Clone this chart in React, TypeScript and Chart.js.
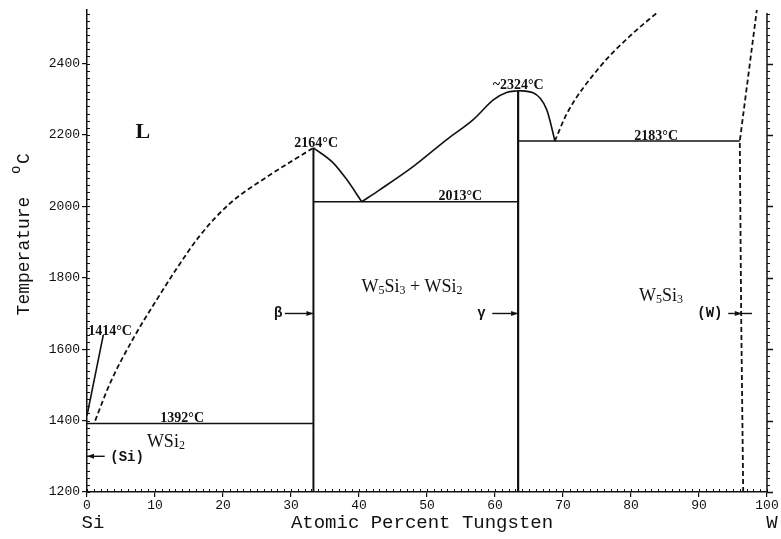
import React, { useEffect, useRef } from 'react';
import { Chart, registerables } from 'chart.js';
Chart.register(...registerables);

// ---- axes ----
const xTickValues = [0, 10, 20, 30, 40, 50, 60, 70, 80, 90, 100];
const yTickValues = [1200, 1400, 1600, 1800, 2000, 2200, 2400];
const xMin = 0, xMax = 100, yMin = 1200, yMax = 2550;
const xMinorStep = 1;
const yMinorStep = 20;

// ---- phase boundaries (x = at.% W, y = °C) ----
const siLiquidus: number[][] = [[1.2, 1400], [3.4, 1505], [6.8, 1630], [10.3, 1740], [13.2, 1826], [16.6, 1918], [21.0, 2008], [26.5, 2083], [30.3, 2129], [33.3, 2164]];
const siMeltLeader: number[][] = [[0, 1414], [2.4, 1640]];
const wsi2Liquidus: number[][] = [[33.3, 2164], [36.2, 2122], [38.2, 2075], [40.4, 2013]];
const w5si3LiquidusLeft: number[][] = [[40.4, 2013], [43.1, 2047], [48, 2112], [52.9, 2187], [56.8, 2243], [59.8, 2299], [61.7, 2319], [63.4, 2324]];
const w5si3LiquidusRight: number[][] = [[63.4, 2324], [65.6, 2318], [67.6, 2271], [68.6, 2200], [68.8, 2183]];
const wLiquidus: number[][] = [[68.8, 2183], [70.6, 2261], [75.4, 2390], [80.3, 2485], [84, 2545]];
const wSolvus: number[][] = [[96.5, 1200], [96.2, 1700], [96, 2183], [98.5, 2550]];
const eutecticSi: number[][] = [[0, 1392], [33.3, 1392]];
const eutecticMid: number[][] = [[33.3, 2013], [63.4, 2013]];
const eutecticW: number[][] = [[63.4, 2183], [96, 2183]];
const wsi2Line: number[][] = [[33.3, 1200], [33.3, 2164]];
const w5si3Line: number[][] = [[63.4, 1200], [63.4, 2324]];

// ---- arrows [xFrom, xTo, y, stubEnd] ----
const arrows: number[][] = [[2.6, 0, 1300, 0], [29.1, 33.3, 1700, 33.3], [59.6, 63.4, 1700, 63.4], [94.3, 96.3, 1700, 97.8]];

// ---- labels ----
const tempLabels: { t: string; x: number; y: number }[] = [
  { t: '2164°C', x: 33.7, y: 2166 },
  { t: '2013°C', x: 54.9, y: 2017 },
  { t: '~2324°C', x: 63.4, y: 2328 },
  { t: '2183°C', x: 83.7, y: 2185 },
  { t: '1414°C', x: 3.4, y: 1641 },
  { t: '1392°C', x: 14.0, y: 1395 },
];
const phaseLabels: { parts: [string, boolean][]; x: number; y: number }[] = [
  { parts: [['WSi', false], ['2', true]], x: 11.6, y: 1344 },
  { parts: [['W', false], ['5', true], ['Si', false], ['3', true], [' + WSi', false], ['2', true]], x: 47.8, y: 1776 },
  { parts: [['W', false], ['5', true], ['Si', false], ['3', true]], x: 84.4, y: 1751 },
];
const monoLabels: { t: string; x: number; y: number }[] = [
  { t: '(Si)', x: 5.9, y: 1298 },
  { t: 'β', x: 28.1, y: 1700 },
  { t: 'γ', x: 58.0, y: 1700 },
  { t: '(W)', x: 91.6, y: 1700 },
];
const xTitle = 'Atomic Percent Tungsten';
const yTitle = 'Temperature';
const leftEnd = 'Si';
const rightEnd = 'W';

const INK = '#111';

export default function App() {
  const ref = useRef<HTMLCanvasElement>(null);
  useEffect(() => {
    const pts = (a: number[][]) => a.map(([x, y]) => ({ x, y }));
    const ds = (a: number[][], opts: any = {}) => ({
      data: pts(a), borderColor: INK, borderWidth: 1.6, pointRadius: 0, fill: false, tension: 0, ...opts,
    });
    const dash = { borderDash: [5, 3], borderWidth: 1.8 };
    const smooth = { cubicInterpolationMode: 'monotone' };
    const datasets = [
      ds(siLiquidus, { ...dash, ...smooth }),
      ds(siMeltLeader),
      ds(wsi2Liquidus, smooth),
      ds(w5si3LiquidusLeft, smooth),
      ds(w5si3LiquidusRight, smooth),
      ds(wLiquidus, { ...dash, ...smooth }),
      ds(wSolvus, dash),
      ds(eutecticSi),
      ds(eutecticMid),
      ds(eutecticW),
      ds(wsi2Line, { borderWidth: 2 }),
      ds(w5si3Line, { borderWidth: 2.2 }),
    ];

    const annot = {
      id: 'annot',
      afterDraw(chart: any) {
        const ctx = chart.ctx;
        const xs = chart.scales.x, ys = chart.scales.y;
        const ca = chart.chartArea;
        const X = (v: number) => xs.getPixelForValue(v);
        const Y = (v: number) => ys.getPixelForValue(v);
        ctx.save();
        ctx.strokeStyle = INK;
        ctx.fillStyle = INK;
        // minor ticks
        ctx.lineWidth = 1;
        ctx.beginPath();
        for (let v = xMin; v <= xMax; v += xMinorStep) {
          const px = Math.round(X(v)) + 0.5;
          ctx.moveTo(px, ca.bottom);
          ctx.lineTo(px, ca.bottom - 3);
        }
        for (let v = yMin; v <= yMax; v += yMinorStep) {
          const py = Math.round(Y(v)) + 0.5;
          ctx.moveTo(ca.left, py);
          ctx.lineTo(ca.left + 3, py);
          ctx.moveTo(ca.right, py);
          ctx.lineTo(ca.right + 3, py);
        }
        ctx.stroke();
        // right axis
        ctx.lineWidth = 1.5;
        ctx.beginPath();
        ctx.moveTo(ca.right, ca.top + 3);
        ctx.lineTo(ca.right, ca.bottom);
        for (const v of yTickValues) {
          const py = Math.round(Y(v)) + 0.5;
          ctx.moveTo(ca.right, py);
          ctx.lineTo(ca.right + 6, py);
        }
        ctx.stroke();
        // arrows
        ctx.lineWidth = 1.4;
        for (const [x0, x1, yv, x2] of arrows) {
          const py = Y(yv), p0 = X(x0), p1 = X(x1), p2 = X(x2);
          ctx.beginPath();
          ctx.moveTo(p0, py);
          ctx.lineTo(p2, py);
          ctx.stroke();
          const dir = Math.sign(p1 - p0);
          ctx.beginPath();
          ctx.moveTo(p1, py);
          ctx.lineTo(p1 - dir * 7, py - 2.5);
          ctx.lineTo(p1 - dir * 7, py + 2.5);
          ctx.closePath();
          ctx.fill();
        }
        // temperature labels
        ctx.font = 'bold 14px "Liberation Serif"';
        ctx.textAlign = 'center';
        ctx.textBaseline = 'alphabetic';
        for (const l of tempLabels) ctx.fillText(l.t, X(l.x), Y(l.y));
        // phase labels with subscripts
        const big = 18, small = 12;
        for (const l of phaseLabels) {
          let w = 0;
          for (const [s, sub] of l.parts) {
            ctx.font = `${sub ? small : big}px "Liberation Serif"`;
            w += ctx.measureText(s).width;
          }
          let px = X(l.x) - w / 2;
          const py = Y(l.y) + 6;
          ctx.textAlign = 'left';
          for (const [s, sub] of l.parts) {
            ctx.font = `${sub ? small : big}px "Liberation Serif"`;
            ctx.fillText(s, px, sub ? py + 2 : py);
            px += ctx.measureText(s).width;
          }
        }
        // L
        ctx.textAlign = 'center';
        ctx.textBaseline = 'middle';
        ctx.font = 'bold 22px "Liberation Serif"';
        ctx.fillText('L', X(8.2), Y(2207));
        // mono labels
        ctx.font = 'bold 14px "Liberation Mono"';
        for (const l of monoLabels) ctx.fillText(l.t, X(l.x), Y(l.y));
        // axis titles
        ctx.font = '19px "Liberation Mono"';
        ctx.fillText(xTitle, 422, 523);
        ctx.fillText(leftEnd, X(0) + 6, 523);
        ctx.fillText(rightEnd, X(100) + 5, 523);
        ctx.save();
        ctx.translate(24, 256);
        ctx.rotate(-Math.PI / 2);
        ctx.font = '18px "Liberation Mono"';
        ctx.textAlign = 'center';
        ctx.fillText(yTitle, 0, 0);
        ctx.textAlign = 'left';
        ctx.font = '14px "Liberation Mono"';
        ctx.fillText('o', 82, -8);
        ctx.font = '18px "Liberation Mono"';
        ctx.fillText('C', 92, 0);
        ctx.restore();
        ctx.restore();
      },
    };

    const chart = new Chart(ref.current as HTMLCanvasElement, {
      type: 'line',
      data: { datasets: datasets as any },
      options: {
        animation: false,
        responsive: false,
        maintainAspectRatio: false,
        layout: { padding: { top: 10, right: 14, left: 0, bottom: 0 } },
        plugins: { legend: { display: false }, tooltip: { enabled: false } },
        scales: {
          x: {
            type: 'linear', min: xMin, max: xMax,
            afterBuildTicks: (s: any) => { s.ticks = xTickValues.map((v) => ({ value: v })); },
            afterFit: (s: any) => { s.height = 47; },
            grid: { display: true, drawOnChartArea: false, drawTicks: true, tickLength: 5, color: INK, lineWidth: 1.2 },
            border: { display: true, color: INK, width: 1.5 },
            ticks: { color: INK, font: { family: 'Liberation Mono', size: 13 }, padding: 1, maxRotation: 0, autoSkip: false, callback: (v: any) => String(v) },
          },
          y: {
            type: 'linear', min: yMin, max: yMax,
            afterBuildTicks: (s: any) => { s.ticks = yTickValues.map((v) => ({ value: v })); },
            afterFit: (s: any) => { s.width = 87; },
            grid: { display: true, drawOnChartArea: false, drawTicks: true, tickLength: 5, color: INK, lineWidth: 1.2 },
            border: { display: true, color: INK, width: 1.5 },
            ticks: { color: INK, font: { family: 'Liberation Mono', size: 13 }, padding: 2, autoSkip: false, callback: (v: any) => String(v) },
          },
        },
      },
      plugins: [annot],
    });
    return () => chart.destroy();
  }, []);
  return (
    <div style={{ position: 'fixed', left: 0, top: 0, width: 781, height: 539, background: '#fff' }}>
      <canvas ref={ref} width={781} height={539} style={{ display: 'block' }} />
    </div>
  );
}
